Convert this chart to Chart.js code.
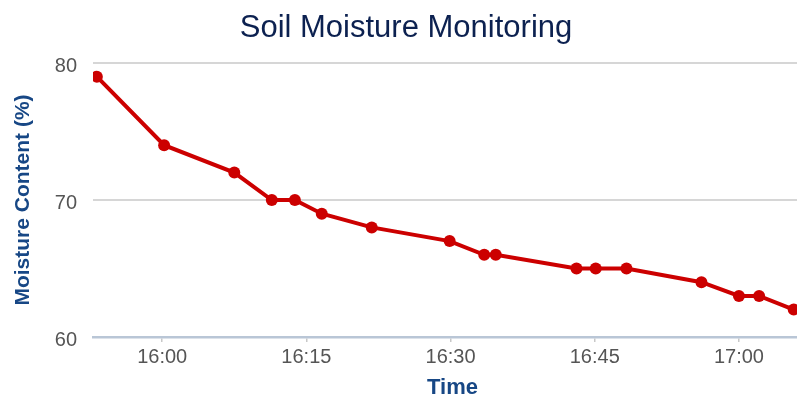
<!DOCTYPE html>
<html>
<head>
<meta charset="utf-8">
<script src="https://cdn.jsdelivr.net/npm/chart.js@4"></script>
<style>
  html, body { margin: 0; padding: 0; background: #fff; overflow: hidden; }
  #wrap { width: 797px; height: 401px; overflow: hidden; }
  #box { width: 812px; height: 401px; }
</style>
</head>
<body>
<div id="wrap"><div id="box"><canvas id="soilChart"></canvas></div></div>
<script>
// readings
const readingTimes = ['15:53:12', '16:00:12', '16:07:30', '16:11:24', '16:13:48', '16:16:36',
  '16:21:48', '16:29:54', '16:33:30', '16:34:42', '16:43:06', '16:45:06', '16:48:18',
  '16:56:06', '17:00:00', '17:02:06', '17:05:42'];
const moisture = [79, 74, 72, 70, 70, 69, 68, 67, 66, 66, 65, 65, 65, 64, 63, 63, 62];
const timeTicks = ['16:00', '16:15', '16:30', '16:45', '17:00'];
const moistureTicks = [60, 70, 80];

// minutes relative to 16:00
function aMinutos(t) {
  const p = t.split(':').map(Number);
  return (p[0] - 16) * 60 + p[1] + (p[2] || 0) / 60;
}
function aHora(m) {
  const h = 16 + Math.floor(m / 60);
  const mm = Math.round(m - (h - 16) * 60);
  return h + ':' + String(mm).padStart(2, '0');
}

const puntos = readingTimes.map((t, i) => ({ x: aMinutos(t), y: moisture[i] }));

const ctx = document.getElementById('soilChart').getContext('2d');
new Chart(ctx, {
  type: 'line',
  data: {
    datasets: [{
      label: 'Moisture',
      data: puntos,
      borderColor: '#cc0000',
      backgroundColor: '#cc0000',
      borderWidth: 4,
      pointRadius: 6,
      pointBorderWidth: 0,
      tension: 0,
      fill: false
    }]
  },
  options: {
    responsive: true,
    maintainAspectRatio: false,
    animation: false,
    layout: { padding: 0, autoPadding: false },
    plugins: {
      legend: { display: false },
      tooltip: { enabled: false },
      title: {
        display: true,
        text: 'Soil Moisture Monitoring',
        color: '#0c2150',
        font: { family: 'Liberation Sans', size: 31, weight: 'normal' },
        padding: { top: 10, bottom: 15.8 }
      }
    },
    scales: {
      x: {
        type: 'linear',
        min: aMinutos('15:52:48'),
        max: aMinutos('17:07:36'),
        afterBuildTicks: s => { s.ticks = timeTicks.map(t => ({ value: aMinutos(t) })); },
        afterFit: s => { s.height = 64; },
        grid: { drawOnChartArea: false, drawTicks: true, tickLength: 5, color: '#c8c8c8', lineWidth: 1.5 },
        border: { display: true, color: '#b9c6d6', width: 2.5 },
        ticks: {
          color: '#555',
          padding: 3,
          maxRotation: 0,
          font: { family: 'Liberation Sans', size: 20 },
          callback: v => aHora(v)
        },
        title: {
          display: true,
          text: 'Time',
          color: '#174785',
          font: { family: 'Liberation Sans', size: 22, weight: 'bold' },
          padding: { top: 0, bottom: 0 }
        }
      },
      y: {
        min: 60,
        max: 80,
        afterBuildTicks: s => { s.ticks = moistureTicks.map(v => ({ value: v })); },
        afterFit: s => { s.width = 93; },
        grid: { color: '#d6d6d6', lineWidth: 2, drawTicks: false },
        border: { display: false },
        ticks: {
          color: '#555',
          padding: 16,
          labelOffset: 3,
          font: { family: 'Liberation Sans', size: 20 }
        },
        title: {
          display: true,
          text: 'Moisture Content (%)',
          color: '#174785',
          font: { family: 'Liberation Sans', size: 21, weight: 'bold' },
          padding: { top: 11, bottom: 0 }
        }
      }
    }
  }
});
</script>
</body>
</html>
